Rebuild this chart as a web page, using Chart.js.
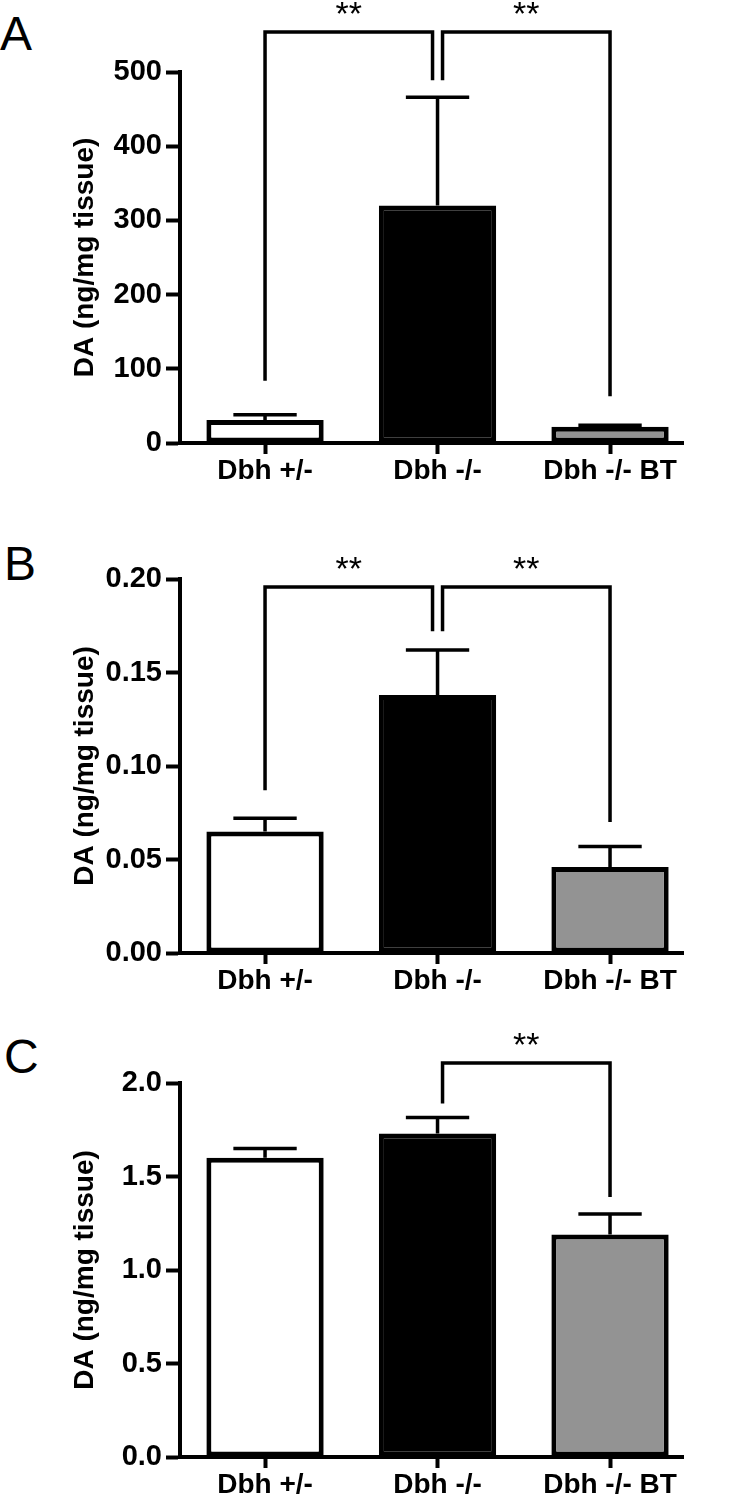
<!DOCTYPE html>
<html>
<head>
<meta charset="utf-8">
<script src="https://cdn.jsdelivr.net/npm/chart.js@4/dist/chart.umd.min.js"></script>
<style>
  body { margin: 0; background: #fff; width: 735px; height: 1499px; position: relative; overflow: hidden; }
  canvas { position: absolute; left: 0; }
  .letter { position: absolute; font-family: "Liberation Sans", Arial, sans-serif; font-size: 48px; line-height: 1; color: #000; }
</style>
</head>
<body>
<div class="letter" style="left:0px; top:10px">A</div>
<div class="letter" style="left:4px; top:540px">B</div>
<div class="letter" style="left:4px; top:1033px">C</div>
<canvas id="chartA" width="735" height="495" style="top:0px"></canvas>
<canvas id="chartB" width="735" height="500" style="top:500px"></canvas>
<canvas id="chartC" width="735" height="499" style="top:1000px"></canvas>
<script>
// groups on the x axis
const categories = ['Dbh +/-', 'Dbh -/-', 'Dbh -/- BT'];
const barColors = ['#ffffff', '#000000', '#939393'];

// panel A
const meansA = [31, 320, 22];
const semA = [7, 146, 2];
const yTicksA = [0, 100, 200, 300, 400, 500];
const yLabelsA = ['0', '100', '200', '300', '400', '500'];
const bracketsA = [[0, 1], [1, 2]];
const bracketTopA = 554;
const legEndsA = [[84, 489], [489, 63]];

// panel B
const meansB = [0.065, 0.138, 0.046];
const semB = [0.007, 0.024, 0.011];
const yTicksB = [0, 0.05, 0.10, 0.15, 0.20];
const yLabelsB = ['0.00', '0.05', '0.10', '0.15', '0.20'];
const bracketsB = [[0, 1], [1, 2]];
const bracketTopB = 0.1957;
const legEndsB = [[0.087, 0.172], [0.172, 0.070]];

// panel C
const meansC = [1.60, 1.73, 1.19];
const semC = [0.05, 0.085, 0.11];
const yTicksC = [0, 0.5, 1.0, 1.5, 2.0];
const yLabelsC = ['0.0', '0.5', '1.0', '1.5', '2.0'];
const bracketsC = [[1, 2]];
const bracketTopC = 2.107;
const legEndsC = [[1.89, 1.39]];

const sigLabel = '**';
const FONT = '"Liberation Sans", Arial, sans-serif';

// error bars (upper only) + significance brackets
const marksPlugin = {
    id: 'marks',
    afterDraw(chart, args, o) {
        const ctx = chart.ctx;
        const xs = chart.scales.x, ys = chart.scales.y;
        const bars = chart.getDatasetMeta(0).data;
        ctx.save();
        ctx.strokeStyle = '#000';
        ctx.lineWidth = 3.5;
        o.sems.forEach((e, i) => {
            const b = bars[i];
            const top = ys.getPixelForValue(o.means[i] + e);
            const half = b.width * 0.27;
            ctx.beginPath();
            ctx.moveTo(b.x, b.y);
            ctx.lineTo(b.x, top);
            ctx.moveTo(b.x - half, top);
            ctx.lineTo(b.x + half, top);
            ctx.stroke();
        });

        const yTop = ys.getPixelForValue(o.top);
        ctx.fillStyle = '#000';
        ctx.font = '34px ' + FONT;
        ctx.textAlign = 'center';
        ctx.textBaseline = 'alphabetic';
        o.brackets.forEach(([a, b], k) => {
            // legs on the shared middle bar sit slightly apart
            const xa = xs.getPixelForValue(a) + (a === 1 ? 5 : 0);
            const xb = xs.getPixelForValue(b) - (b === 1 ? 5 : 0);
            ctx.beginPath();
            ctx.moveTo(xa, ys.getPixelForValue(o.legs[k][0]));
            ctx.lineTo(xa, yTop);
            ctx.lineTo(xb, yTop);
            ctx.lineTo(xb, ys.getPixelForValue(o.legs[k][1]));
            ctx.stroke();
            ctx.fillText(sigLabel, (xa + xb) / 2, yTop - 7);
        });
        ctx.restore();
    }
};

function makeChart(id, means, sems, yTicks, yLabels, yMax, brackets, top, legs, areaTop, xHeight) {
    return new Chart(document.getElementById(id), {
        type: 'bar',
        data: {
            datasets: [{
                data: means.map((v, i) => ({ x: i, y: v })),
                backgroundColor: barColors,
                borderColor: '#000',
                borderWidth: 5,
                borderSkipped: false,
                categoryPercentage: 1,
                barPercentage: 0.68
            }]
        },
        plugins: [marksPlugin],
        options: {
            responsive: false,
            animation: false,
            devicePixelRatio: 1,
            layout: { padding: { top: areaTop, right: 52, left: 0, bottom: 0 } },
            plugins: {
                legend: { display: false },
                tooltip: { enabled: false },
                marks: { means: means, sems: sems, brackets: brackets, top: top, legs: legs }
            },
            scales: {
                x: {
                    type: 'linear',
                    offset: false,
                    min: -0.493,
                    max: 2.423,
                    afterFit: s => { s.height = xHeight; },
                    afterBuildTicks: s => { s.ticks = categories.map((c, i) => ({ value: i })); },
                    ticks: {
                        autoSkip: false,
                        maxRotation: 0,
                        padding: 0,
                        color: '#000',
                        font: { family: FONT, size: 28, weight: 'bold' },
                        callback: v => categories[v]
                    },
                    grid: { offset: false, drawOnChartArea: false, drawTicks: true, tickLength: 11, tickWidth: 4, tickColor: '#000' },
                    border: { display: true, width: 4, color: '#000' }
                },
                y: {
                    min: 0,
                    max: yMax,
                    afterFit: s => { s.width = 180; },
                    afterBuildTicks: s => { s.ticks = yTicks.map(v => ({ value: v })); },
                    ticks: {
                        padding: 4,
                        color: '#000',
                        font: { family: FONT, size: 29, weight: 'bold' },
                        callback: (v, i) => yLabels[i]
                    },
                    grid: { drawOnChartArea: false, drawTicks: true, tickLength: 14, tickWidth: 4, tickColor: '#000' },
                    border: { display: true, width: 4, color: '#000' },
                    title: {
                        display: true,
                        text: 'DA (ng/mg tissue)',
                        color: '#000',
                        font: { family: FONT, size: 28, weight: 'bold' },
                        padding: { top: 68, bottom: 0 }
                    }
                }
            }
        }
    });
}

makeChart('chartA', meansA, semA, yTicksA, yLabelsA, 500, bracketsA, bracketTopA, legEndsA, 72, 52);
makeChart('chartB', meansB, semB, yTicksB, yLabelsB, 0.2, bracketsB, bracketTopB, legEndsB, 79, 47);
makeChart('chartC', meansC, semC, yTicksC, yLabelsC, 2.0, bracketsC, bracketTopC, legEndsC, 83, 42);
</script>
</body>
</html>
